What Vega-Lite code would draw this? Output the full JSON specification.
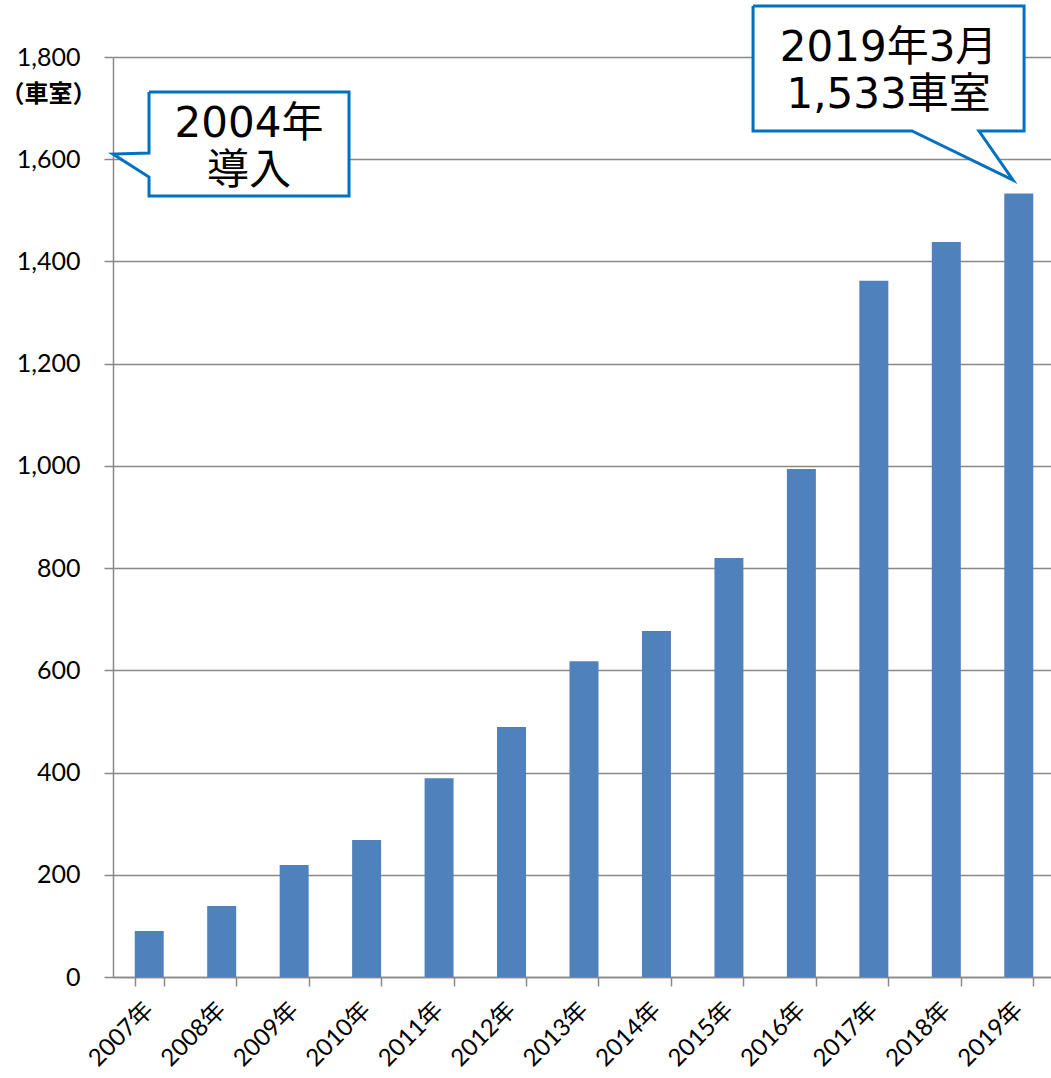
{
  "$schema": "https://vega.github.io/schema/vega-lite/v6.json",
  "width": 942,
  "height": 920,
  "autosize": {"type": "none"},
  "padding": {"left": 113, "top": 57, "right": 0, "bottom": 101},
  "background": "white",
  "config": {"view": {"stroke": null}},
  "datasets": {
    "bars": [
      {"year": "2007年", "v": 90},
      {"year": "2008年", "v": 139},
      {"year": "2009年", "v": 219},
      {"year": "2010年", "v": 268},
      {"year": "2011年", "v": 389},
      {"year": "2012年", "v": 489},
      {"year": "2013年", "v": 618},
      {"year": "2014年", "v": 677},
      {"year": "2015年", "v": 820},
      {"year": "2016年", "v": 994},
      {"year": "2017年", "v": 1362},
      {"year": "2018年", "v": 1438},
      {"year": "2019年", "v": 1533}
    ],
    "callouts": [
      {"id": "a", "i": 0, "cx": 0.497, "v": 1731.5},
      {"id": "a", "i": 1, "cx": 3.257, "v": 1731.5},
      {"id": "a", "i": 2, "cx": 3.257, "v": 1528.0},
      {"id": "a", "i": 3, "cx": 0.497, "v": 1528.0},
      {"id": "a", "i": 4, "cx": 0.497, "v": 1565.2},
      {"id": "a", "i": 5, "cx": 0.0, "v": 1610.2},
      {"id": "a", "i": 6, "cx": 0.497, "v": 1612.2},
      {"id": "a", "i": 7, "cx": 0.497, "v": 1731.5},
      {"id": "b", "i": 0, "cx": 8.833, "v": 1899.8},
      {"id": "b", "i": 1, "cx": 12.573, "v": 1899.8},
      {"id": "b", "i": 2, "cx": 12.573, "v": 1655.2},
      {"id": "b", "i": 3, "cx": 11.951, "v": 1655.2},
      {"id": "b", "i": 4, "cx": 12.421, "v": 1559.3},
      {"id": "b", "i": 5, "cx": 11.027, "v": 1655.2},
      {"id": "b", "i": 6, "cx": 8.833, "v": 1655.2},
      {"id": "b", "i": 7, "cx": 8.833, "v": 1899.8}
    ],
    "texts": [
      {"t": "2004年", "cx": 1.877, "v": 1669},
      {"t": "導入", "cx": 1.877, "v": 1577},
      {"t": "2019年3月", "cx": 10.703, "v": 1817.6},
      {"t": "1,533車室", "cx": 10.703, "v": 1725.7}
    ]
  },
  "encoding": {
    "y": {
      "field": "v", "type": "quantitative",
      "scale": {"domain": [0, 1800], "nice": false},
      "title": "（車室）",
      "axis": {
        "titleAngle": 0,
        "titleX": -65,
        "titleY": 37,
        "titleAlign": "center",
        "titleBaseline": "middle",
        "titleFont": "Noto Sans CJK JP",
        "titleFontSize": 24,
        "titleFontWeight": "bold",
        "titleColor": "black",
        "values": [0, 200, 400, 600, 800, 1000, 1200, 1400, 1600, 1800],
        "format": ",.0f",
        "labelFont": "Lato",
        "labelFontSize": 25,
        "labelColor": "black",
        "labelPadding": 24,
        "tickSize": 9,
        "tickColor": "#888888",
        "tickWidth": 1.5,
        "domainColor": "#888888",
        "domainWidth": 1.5,
        "grid": true,
        "gridColor": "#888888",
        "gridWidth": 1.5
      }
    }
  },
  "layer": [
    {
      "data": {"name": "bars"},
      "mark": {"type": "bar", "color": "#4F81BD"},
      "encoding": {
        "x": {
          "field": "year", "type": "nominal", "sort": null,
          "scale": {"paddingInner": 0.6, "paddingOuter": 0.3},
          "axis": {
            "title": null,
            "labelAngle": -45,
            "labelAlign": "right",
            "labelBaseline": "middle",
            "labelFont": "Lato, Noto Sans CJK JP",
            "labelFontSize": 24,
            "labelColor": "black",
            "labelPadding": 20,
            "labelOverlap": false,
            "tickBand": "extent",
            "tickSize": 9,
            "tickColor": "#888888",
            "tickWidth": 1.5,
            "domainColor": "#888888",
            "domainWidth": 1.5,
            "grid": false
          }
        }
      }
    },
    {
      "data": {"name": "callouts"},
      "mark": {"type": "line", "fill": "white", "stroke": "#0070C0", "strokeWidth": 3, "strokeJoin": "miter", "clip": false},
      "encoding": {
        "x": {"field": "cx", "type": "quantitative", "scale": {"domain": [0, 13], "nice": false, "zero": false}, "axis": null},
        "order": {"field": "i", "type": "quantitative"},
        "detail": {"field": "id", "type": "nominal"}
      }
    },
    {
      "data": {"name": "texts"},
      "mark": {"type": "text", "font": "DejaVu Sans, Noto Sans CJK JP", "fontSize": 42, "align": "center", "baseline": "middle", "color": "black"},
      "encoding": {
        "x": {"field": "cx", "type": "quantitative", "scale": {"domain": [0, 13], "nice": false, "zero": false}, "axis": null},
        "text": {"field": "t", "type": "nominal"}
      }
    }
  ],
  "resolve": {"scale": {"x": "independent"}}
}
